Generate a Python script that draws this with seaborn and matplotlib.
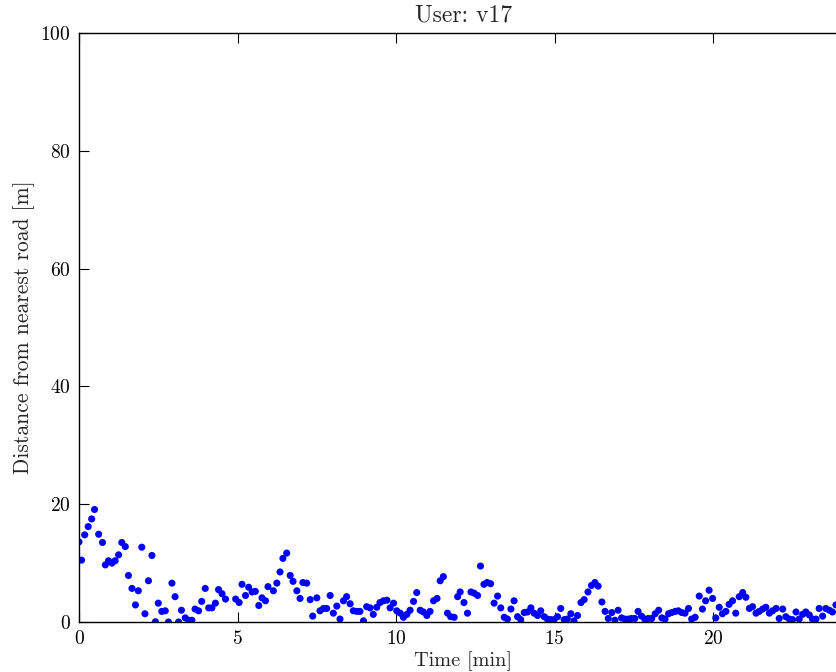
import matplotlib
matplotlib.use("Agg")
import matplotlib.pyplot as plt
import seaborn as sns
import pandas as pd

time_min = [
    0.00, 0.08, 0.18, 0.29, 0.40, 0.49, 0.62, 0.74, 0.83, 0.93,
    1.04, 1.14, 1.25, 1.35, 1.46, 1.56, 1.67, 1.78, 1.87, 1.98,
    2.08, 2.19, 2.30, 2.41, 2.50, 2.61, 2.72, 2.82, 2.93, 3.03,
    3.14, 3.23, 3.35, 3.45, 3.56, 3.66, 3.77, 3.87, 3.98, 4.09,
    4.19, 4.30, 4.40, 4.51, 4.62, 4.94, 5.05, 5.14, 5.25, 5.35,
    5.46, 5.56, 5.67, 5.77, 5.88, 5.96,
    6.13, 6.24, 6.34, 6.43, 6.55, 6.66, 6.75, 6.87, 6.97, 7.06,
    7.18, 7.29, 7.37, 7.50, 7.60, 7.71, 7.81, 7.92, 8.02, 8.13,
    8.23, 8.34, 8.44, 8.55, 8.65, 8.76, 8.86, 8.97, 9.07, 9.18,
    9.28, 9.39, 9.49, 9.60, 9.71, 9.81, 9.92, 10.02, 10.13, 10.23,
    10.34, 10.44, 10.55, 10.65, 10.76, 10.86, 10.97, 11.07, 11.18, 11.29,
    11.39, 11.49, 11.62, 11.72, 11.83, 11.94, 12.02,
    12.14, 12.25, 12.36, 12.46, 12.57, 12.66, 12.77, 12.87, 12.98, 13.09,
    13.20, 13.30, 13.41, 13.51, 13.62, 13.72, 13.83, 13.93, 14.04, 14.14,
    14.25, 14.35, 14.46, 14.56, 14.67, 14.77, 14.88, 14.98, 15.09, 15.19,
    15.30, 15.40, 15.51, 15.61, 15.72, 15.83, 15.93, 16.05, 16.16, 16.27,
    16.37, 16.49, 16.59, 16.69, 16.80, 16.90, 17.00, 17.11, 17.21, 17.32,
    17.42, 17.53, 17.63, 17.74, 17.84, 17.95,
    18.06, 18.17, 18.28, 18.38, 18.48, 18.59, 18.69, 18.80, 18.90, 19.01,
    19.11, 19.22, 19.32, 19.43, 19.56, 19.66, 19.76, 19.87, 19.98, 20.08,
    20.19, 20.29, 20.40, 20.50, 20.61, 20.71, 20.82, 20.93, 21.03, 21.14,
    21.24, 21.35, 21.45, 21.56, 21.66, 21.77, 21.87, 21.98, 22.08, 22.19,
    22.29, 22.40, 22.50, 22.61, 22.71, 22.82, 22.92, 23.03, 23.13, 23.24,
    23.34, 23.45, 23.55, 23.66, 23.76, 23.87,
]

distance_m = [
    13.6, 10.5, 14.8, 16.2, 17.5, 19.1, 14.9, 13.5, 9.7, 10.4,
    10.0, 10.4, 11.4, 13.5, 12.8, 7.9, 5.7, 2.9, 5.3, 12.7,
    1.4, 7.0, 11.3, 0.05, 3.2, 1.8, 1.9, 0.0, 6.6, 4.3,
    0.0, 2.0, 0.7, 0.3, 0.3, 2.2, 1.9, 3.5, 5.7, 2.4,
    2.4, 3.2, 5.5, 4.8, 3.9, 3.9, 3.3, 6.4, 4.5, 5.9,
    5.1, 5.2, 2.8, 4.1, 3.6, 6.0,
    5.3, 6.6, 8.5, 10.8, 11.7, 7.9, 6.9, 5.3, 4.0, 6.7,
    6.6, 3.8, 1.0, 4.1, 1.9, 2.3, 2.3, 4.5, 1.5, 2.7,
    0.5, 3.6, 4.3, 3.1, 1.9, 1.8, 1.8, 0.2, 2.6, 2.4,
    1.3, 2.5, 3.3, 3.6, 3.7, 2.4, 3.2, 1.9, 1.5, 0.8,
    1.3, 2.0, 3.5, 5.0, 2.0, 1.7, 1.1, 1.8, 3.6, 4.0,
    7.0, 7.7, 1.5, 0.9, 0.8, 4.3, 5.1,
    3.3, 1.5, 5.1, 4.9, 4.5, 9.5, 6.4, 6.7, 6.5, 3.2,
    4.4, 2.4, 0.8, 0.5, 2.2, 3.6, 0.9, 0.4, 1.6, 1.7,
    2.4, 1.5, 1.1, 1.9, 0.9, 0.5, 0.4, 0.4, 0.9, 2.3,
    0.4, 0.5, 1.4, 0.2, 1.1, 3.3, 3.8, 5.1, 6.2, 6.7,
    6.1, 3.4, 1.8, 0.6, 1.6, 0.3, 2.0, 0.7, 0.5, 0.5,
    0.6, 0.6, 1.8, 1.0, 0.5, 0.6,
    0.6, 1.4, 2.0, 0.7, 0.5, 1.4, 1.6, 1.8, 1.9, 1.6,
    1.5, 2.3, 0.5, 0.8, 4.4, 2.2, 3.6, 5.4, 4.0, 0.7,
    2.5, 1.4, 1.8, 3.0, 3.6, 1.5, 4.3, 5.0, 4.2, 2.3,
    2.6, 1.5, 1.8, 2.2, 2.5, 1.5, 1.9, 2.3, 0.6, 2.2,
    0.9, 0.5, 0.4, 1.7, 0.5, 1.3, 1.7, 1.2, 0.5, 0.5,
    2.3, 1.0, 2.3, 2.0, 1.7, 2.9,
]

x_ticks = [0, 5, 10, 15, 20]
y_ticks = [0, 20, 40, 60, 80, 100]
title_text = "User: v17"
x_label = "Time [min]"
y_label = "Distance from nearest road [m]"

df = pd.DataFrame({"t": time_min, "d": distance_m})

sns.set_style("ticks")
plt.rcParams["font.family"] = ["cmr10", "DejaVu Serif"]
plt.rcParams["axes.formatter.use_mathtext"] = True
plt.rcParams["mathtext.fontset"] = "cm"

fig = plt.figure(figsize=(8.36, 6.72), dpi=100)
ax = fig.add_axes([79 / 836, 50 / 672, (848 - 79) / 836, 589 / 672])

sns.scatterplot(data=df, x="t", y="d", ax=ax, color="#0000ff", s=26,
                linewidth=0, edgecolor="none", clip_on=True)

ax.set_xticks(x_ticks)
ax.set_yticks(y_ticks)
ax.set_xlim(0, 24.25)
ax.set_ylim(0, 100)
ax.tick_params(direction="in", length=7, width=0.8, top=True, right=True,
               labelsize=14, colors="black", pad=6)
for sp in ax.spines.values():
    sp.set_visible(True)
    sp.set_color("black")
    sp.set_linewidth(1.0)

ax.set_title(title_text, fontsize=17, pad=8)
ax.set_xlabel(x_label, fontsize=14.6, labelpad=2)
ax.set_ylabel(y_label, fontsize=15.5, labelpad=4)

fig.savefig("out.png", dpi=100, facecolor="white")
